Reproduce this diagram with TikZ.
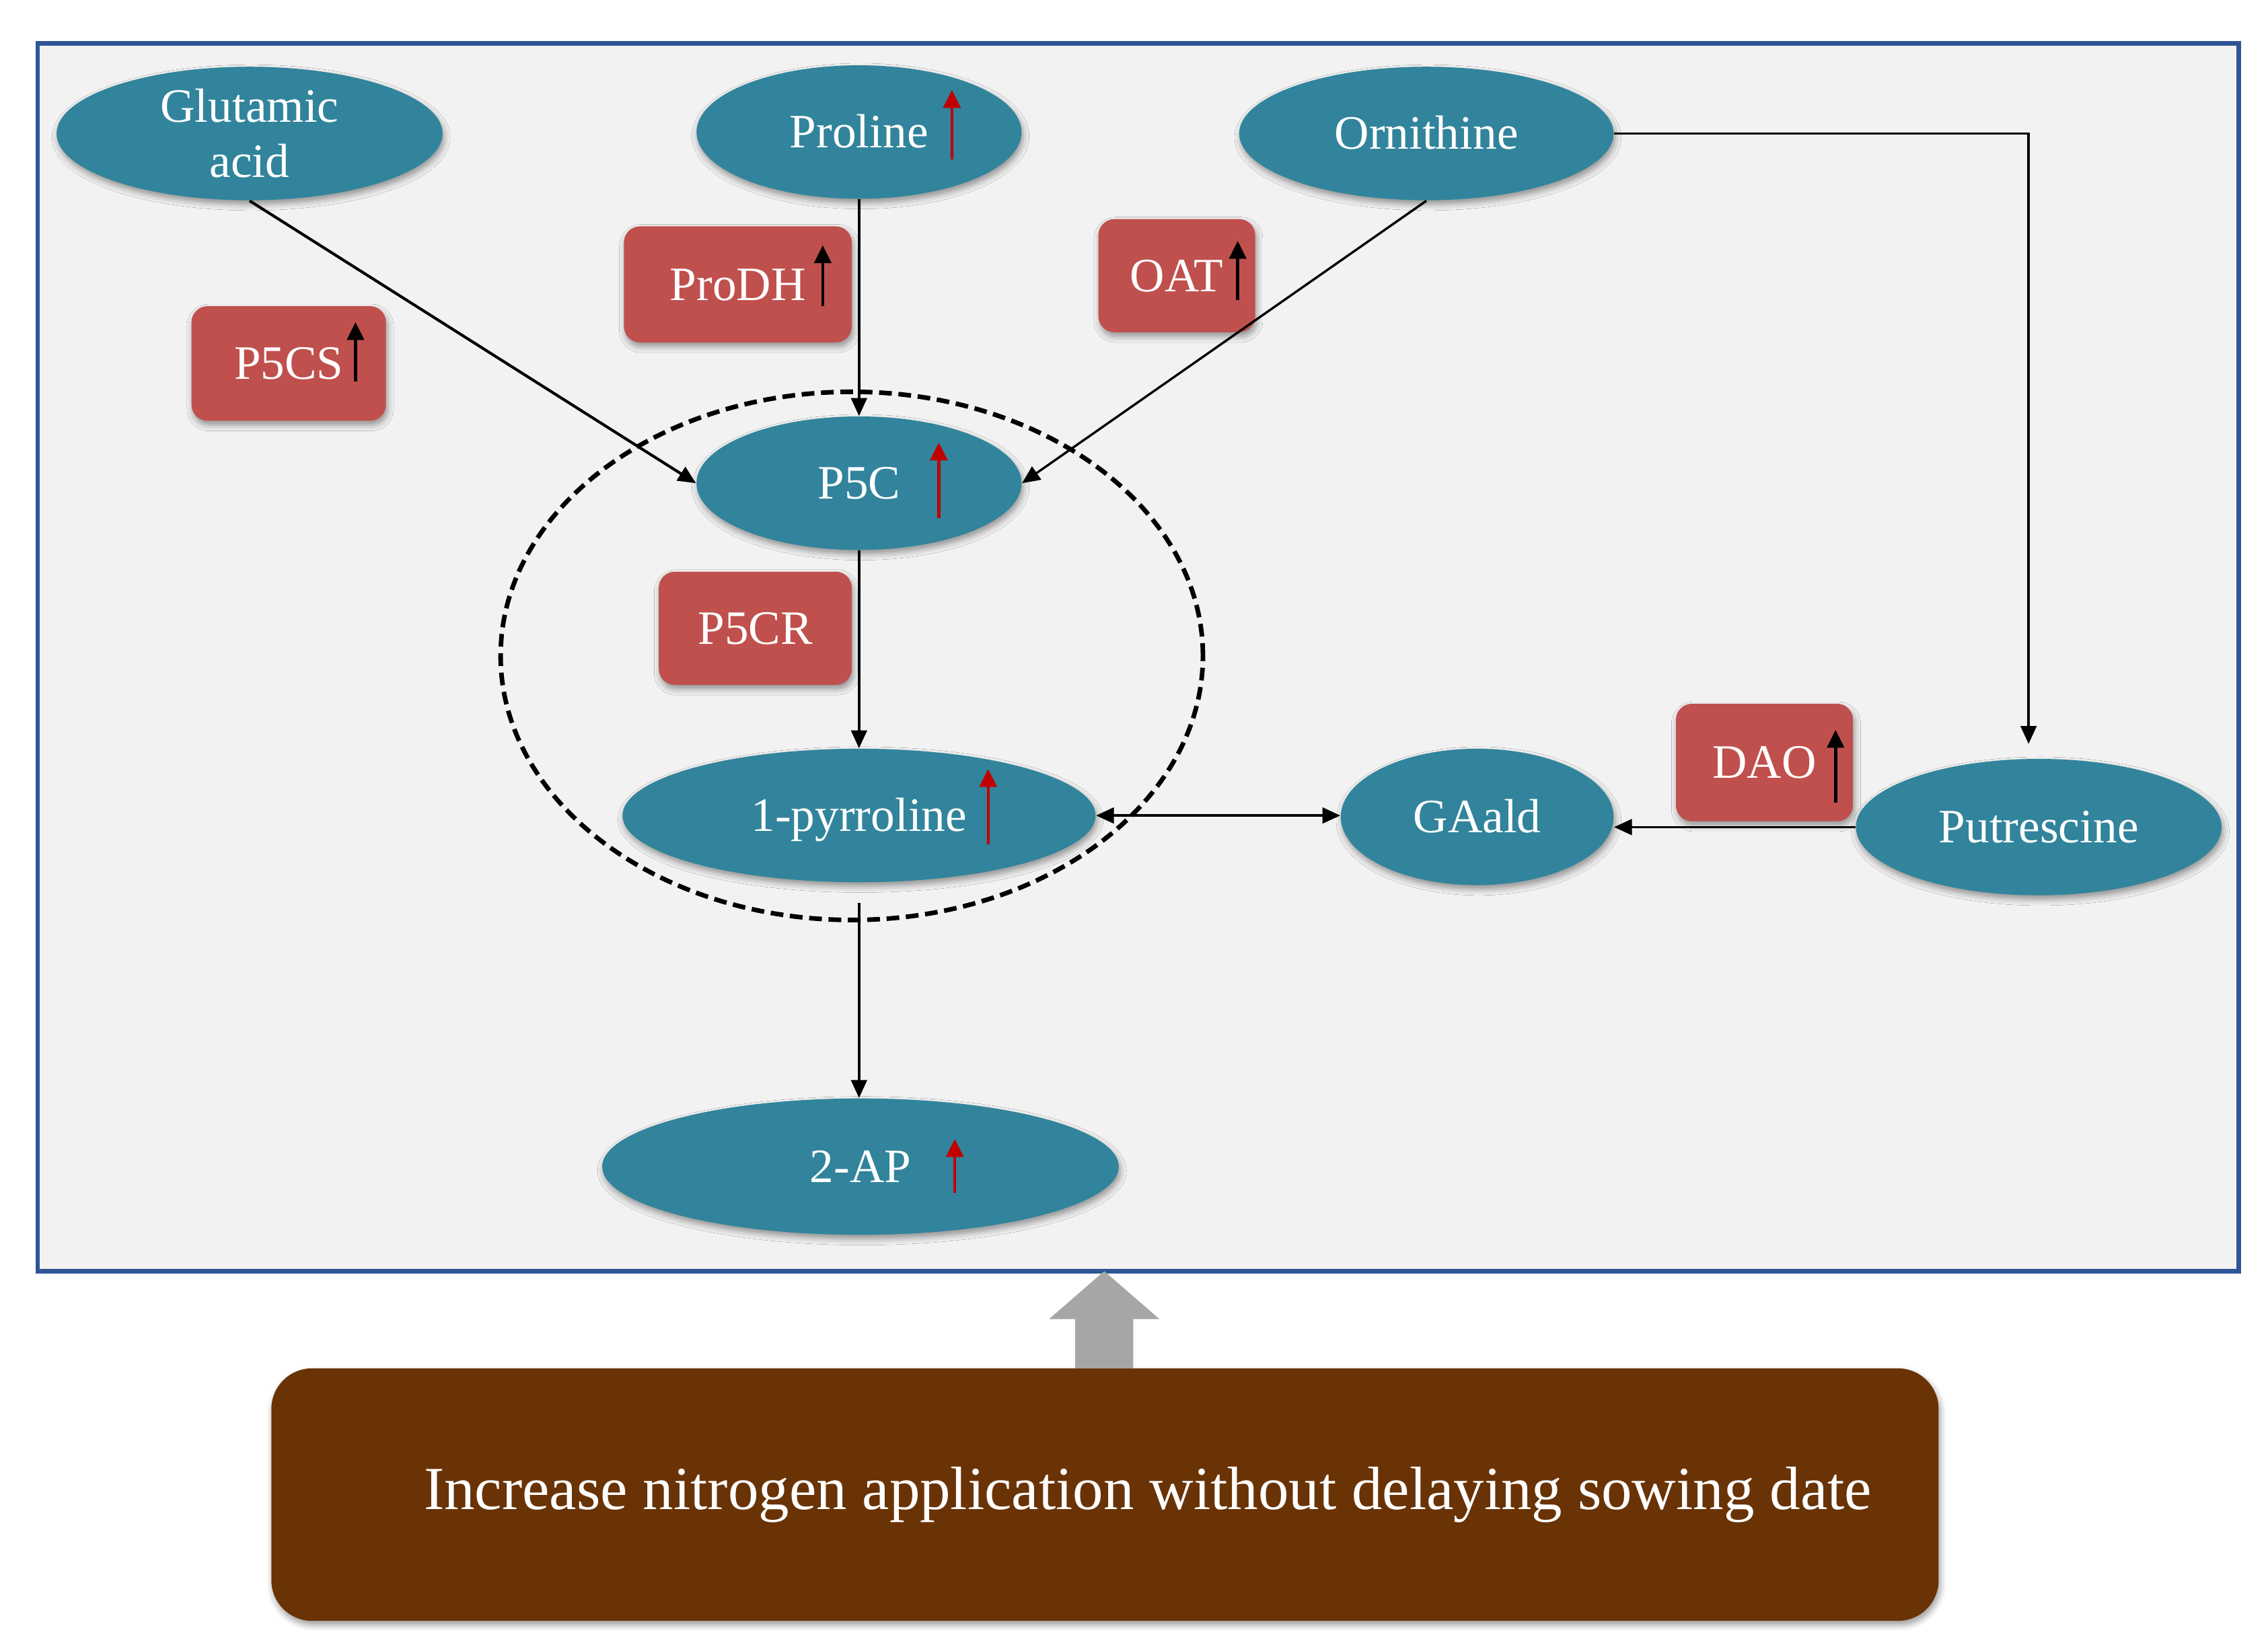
\documentclass[tikz,border=0pt]{standalone}
\usepackage{fontspec}
\setmainfont{Liberation Serif}
\usetikzlibrary{arrows.meta,shadows.blur,calc,shapes.geometric}
\definecolor{panelfill}{HTML}{F2F2F2}
\definecolor{panelline}{RGB}{47,85,151}
\definecolor{metteal}{RGB}{49,132,155}
\definecolor{enzred}{RGB}{192,80,77}
\definecolor{uparrred}{RGB}{192,0,0}
\definecolor{nbrown}{RGB}{106,51,6}
\definecolor{blockgray}{RGB}{166,166,166}
\newlength\uu
\setlength\uu{0.02cm}
\begin{document}
\begin{tikzpicture}[x=1\uu,y=-1\uu,
  mysh/.style={blur shadow={shadow xshift=0.6pt,shadow yshift=-1.6pt,shadow blur radius=2.4pt,shadow opacity=40}},
  met/.style={ellipse,fill=metteal,text=white,inner sep=0pt,mysh,
    font=\fontsize{18.8}{21.6}\selectfont},
  oneline/.style={text height=12.4pt,text depth=0pt},
  enz/.style={rectangle,rounded corners=0.22cm,fill=enzred,text=white,inner sep=0pt,mysh,
    font=\fontsize{18.8}{21.6}\selectfont,text height=12.4pt,text depth=0pt},
  conn/.style={draw=black,line width=0.9pt,-{Triangle[length=7pt,width=6.2pt]}},
  conn2/.style={draw=black,line width=0.9pt,{Triangle[length=7pt,width=6.2pt]}-{Triangle[length=7pt,width=6.2pt]}},
  blkup/.style={draw=black,line width=1.2pt,-{Triangle[length=7pt,width=6.6pt]}},
  redup/.style={draw=uparrred,line width=1.1pt,-{Triangle[length=7pt,width=6.8pt]}},
  loopst/.style={draw=black,ellipse,line width=1.8pt,dash pattern=on 5pt off 2.6pt,inner sep=0pt},
]
\useasboundingbox (0,0) rectangle (1563,1136.4);

% panel
\node[draw=panelline,fill=panelfill,line width=1.8pt,minimum width=1517\uu,minimum height=846\uu,inner sep=0pt] (panel) at (784.5,453) {};

% metabolites
\node[met,minimum width=266\uu,minimum height=92\uu,align=center] (glu) at (172,92) {Glutamic\\acid};
\node[met,oneline,minimum width=224\uu,minimum height=92\uu] (pro) at (592,91) {Proline};
\node[met,oneline,minimum width=258\uu,minimum height=92\uu] (orn) at (983,92) {Ornithine};
\node[met,oneline,minimum width=224\uu,minimum height=92\uu] (p5c) at (592,333) {P5C};
\node[met,oneline,minimum width=326\uu,minimum height=92\uu] (pyr) at (592,562) {1-pyrroline};
\node[met,oneline,minimum width=356\uu,minimum height=94\uu] (ap) at (593,804) {2-AP};
\node[met,oneline,minimum width=188\uu,minimum height=94\uu] (gaa) at (1018,563) {GAald};
\node[met,oneline,minimum width=252\uu,minimum height=94\uu] (put) at (1405,570) {Putrescine};

% enzymes
\node[enz,minimum width=134\uu,minimum height=79\uu] (p5cs) at (199,250.5) {P5CS};
\node[enz,minimum width=157\uu,minimum height=80\uu] (prodh) at (508.5,196) {ProDH};
\node[enz,minimum width=108\uu,minimum height=78\uu] (oat) at (811,190) {OAT};
\node[enz,minimum width=133\uu,minimum height=78\uu] (p5cr) at (520.5,433) {P5CR};
\node[enz,minimum width=122\uu,minimum height=81\uu] (dao) at (1216,525.5) {DAO};

% up arrows in enzymes
\draw[blkup] ($(p5cs.center)+(46,12.5)$) -- ++(0,-41);
\draw[blkup] ($(prodh.center)+(58.5,15)$) -- ++(0,-42);
\draw[blkup] ($(oat.center)+(42,17)$) -- ++(0,-41);
\draw[blkup] ($(dao.center)+(49,27.5)$) -- ++(0,-50);

% up arrows in metabolites
\draw[redup] ($(pro.center)+(64,19)$) -- ++(0,-48);
\draw[redup] ($(p5c.center)+(55,24)$) -- ++(0,-52);
\draw[redup] ($(pyr.center)+(89,20)$) -- ++(0,-52);
\draw[redup] ($(ap.center)+(65,18)$) -- ++(0,-37);

% connectors
\draw[conn,line width=1.1pt] (glu.south) -- (p5c.west);
\draw[conn] (pro.south) -- (p5c.north);
\draw[conn] (orn.south) -- (p5c.east);
\coordinate (bend) at (1398,92);
\draw[conn] (orn.east) -- (bend) -- ($(bend |- put.north)+(0,-10)$);
\draw[conn] (p5c.south) -- (pyr.north);
\draw[conn2] (pyr.east) -- (pyr.east -| gaa.west);
\draw[conn] (put.west) -- (put.west -| gaa.east);
\draw[conn,shorten <=14\uu] (pyr.south) -- (pyr.south |- ap.north);

% dashed loop
\node[loopst,minimum width=484\uu,minimum height=364\uu] (loop) at (587,452) {};

% bottom box and block arrow
\node[rectangle,rounded corners=0.56cm,fill=nbrown,minimum width=1149\uu,minimum height=174\uu,inner sep=0pt,mysh] (nbox) at (761.5,1030) {};
\node[text=white,font=\fontsize{24}{28}\selectfont,inner sep=0pt] (ntext) at (791,1030) {Increase nitrogen application without delaying sowing date};
\fill[blockgray] (761,876) -- (799,909) -- (781,909) -- (781,943) -- (741,943) -- (741,909) -- (723,909) -- cycle;
\end{tikzpicture}
\end{document}
